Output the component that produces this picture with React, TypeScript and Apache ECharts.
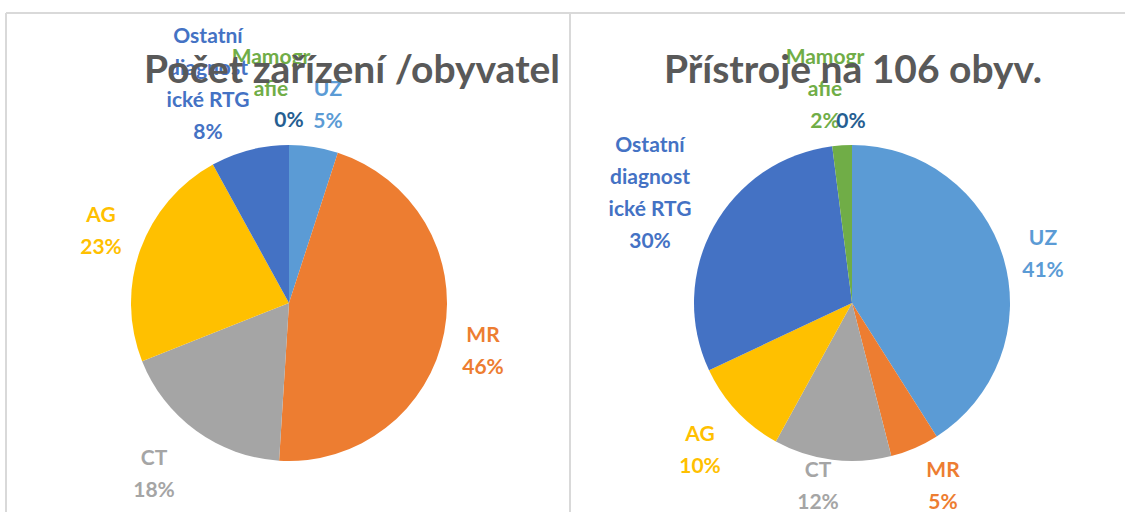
import React, { useEffect, useRef } from "react";
import * as echarts from "echarts";

// Categories (Excel order, clockwise from 12 o'clock)
const categories = ["UZ", "MR", "CT", "AG", "Ostatní diagnostické RTG", "Mamografie", ""];
// Wrapped label text as shown in the chart
const labelNames = ["UZ", "MR", "CT", "AG", "Ostatní\ndiagnost\nické RTG", "Mamogr\nafie", ""];
const colors = ["#5B9BD5", "#ED7D31", "#A5A5A5", "#FFC000", "#4472C4", "#70AD47", "#255E91"];

// Left chart: Počet zařízení /obyvatel (percent shares)
const leftValues = [5, 46, 18, 23, 8, 0, 0];
// Right chart: Přístroje na 106 obyv. (percent shares)
const rightValues = [41, 5, 12, 10, 30, 2, 0];

const leftTitle = "Počet zařízení /obyvatel";
const rightTitle = "Přístroje na 106 obyv.";

// Label anchor positions (px) reproducing Excel "best fit" placement
const leftLabelPos = [
  [328, 103], [483, 349], [154, 472], [101, 229], [208, 82], [271, 71], [289, 118],
];
const rightLabelPos = [
  [1043, 252], [943, 484], [818, 484], [700, 448], [650, 191], [825, 87], [851, 119],
];

function makeSeries(values: number[], center: [number, number], pos: number[][], hideZeroNamed: boolean) {
  return {
    type: "pie",
    center,
    radius: 158,
    startAngle: 90,
    clockwise: true,
    percentPrecision: 0,
    avoidLabelOverlap: false,
    labelLine: { show: false },
    itemStyle: { borderWidth: 0 },
    emphasis: { disabled: true },
    data: values.map((v, i) => ({
      name: categories[i],
      value: v,
      itemStyle: { color: colors[i] },
      label: { color: colors[i] },
    })),
    label: {
      show: true,
      position: "outside",
      fontFamily: "Lato",
      fontWeight: "bold",
      fontSize: 21,
      lineHeight: 32,
      align: "center",
      formatter: (p: any) => {
        const nm = labelNames[p.dataIndex];
        if (!nm) return p.percent + "%";
        if (hideZeroNamed && p.value === 0) return nm;
        return nm + "\n" + p.percent + "%";
      },
    },
    labelLayout: (params: any) => {
      const q = pos[params.dataIndex];
      return { x: q[0], y: q[1], align: "center", verticalAlign: "middle", hideOverlap: false };
    },
  };
}

export default function App() {
  const ref = useRef<HTMLDivElement>(null);
  useEffect(() => {
    if (!ref.current) return;
    const chart = echarts.init(ref.current, undefined, { renderer: "svg" });
    const border = { stroke: "#D9D9D9", lineWidth: 2 };
    chart.setOption({
      animation: false,
      backgroundColor: "#FFFFFF",
      series: [
        makeSeries(leftValues, [289, 303], leftLabelPos, true),
        makeSeries(rightValues, [852, 303], rightLabelPos, false),
      ],
      graphic: [
        { type: "line", shape: { x1: 6, y1: 13, x2: 1125, y2: 13 }, style: border, z: 1 },
        { type: "line", shape: { x1: 6, y1: 13, x2: 6, y2: 512 }, style: border, z: 1 },
        { type: "line", shape: { x1: 570, y1: 13, x2: 570, y2: 512 }, style: border, z: 1 },
        {
          type: "text", x: 352, y: 68, z: 100,
          style: { text: leftTitle, fill: "#595959", font: "bold 39px Lato", textAlign: "center", textVerticalAlign: "middle" },
        },
        {
          type: "text", x: 853, y: 68, z: 100,
          style: { text: rightTitle, fill: "#595959", font: "bold 39px Lato", textAlign: "center", textVerticalAlign: "middle" },
        },
      ],
    });
    return () => chart.dispose();
  }, []);
  return <div ref={ref} style={{ position: "absolute", left: 0, top: 0, width: 1125, height: 512 }} />;
}
